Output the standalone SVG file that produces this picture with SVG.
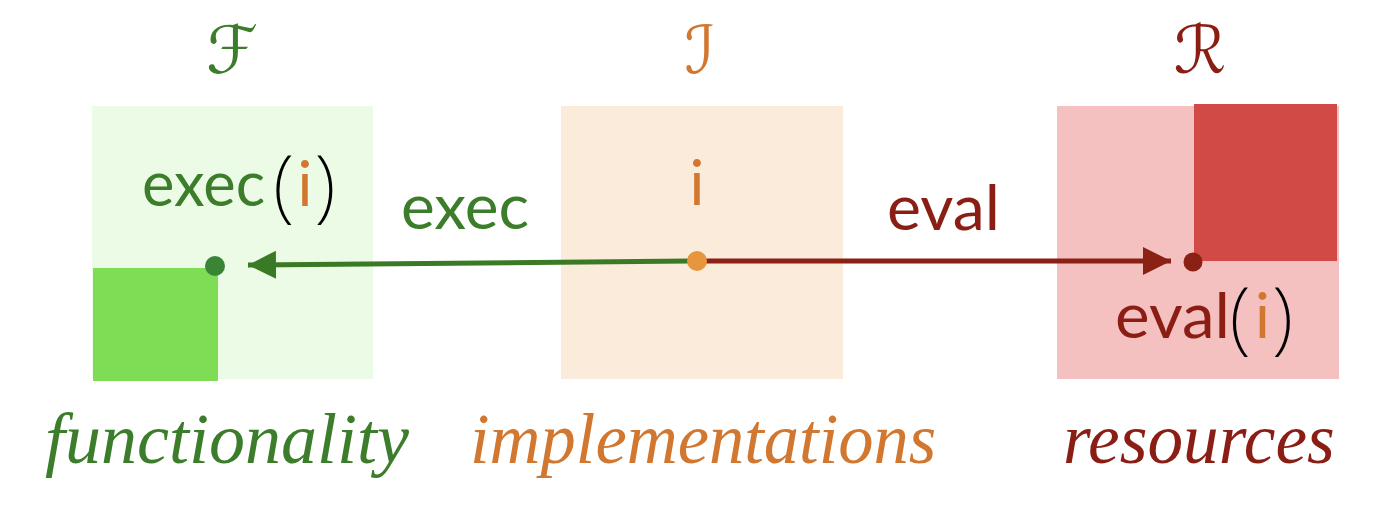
<svg xmlns="http://www.w3.org/2000/svg" width="1400" height="518" viewBox="0 0 1400 518">
<style>
.sans{font-family:Lato,"Open Sans","DejaVu Sans",sans-serif;font-size:62px}
.paren{font-family:"Noto Sans","DejaVu Sans",sans-serif;font-size:80px;font-weight:200;fill:#000;text-anchor:middle}
.title{font-family:"DejaVu Serif","DejaVu Sans",serif;font-size:66px;text-anchor:middle}
.cap{font-family:"Liberation Serif",serif;font-style:italic;font-size:72px}
.g{fill:#3b7d2a}.o{fill:#d2772f}.r{fill:#8b1e14}
.mid{text-anchor:middle}
</style>
<defs>
<marker id="ahG" markerWidth="28" markerHeight="28" refX="28" refY="14" orient="auto" markerUnits="userSpaceOnUse"><path d="M0,0 L28,14 L0,28 z" fill="#3b7a24"/></marker>
<marker id="ahR" markerWidth="28" markerHeight="28" refX="28" refY="14" orient="auto" markerUnits="userSpaceOnUse"><path d="M0,0 L28,14 L0,28 z" fill="#8b2015"/></marker>
</defs>
<g id="functionality">
<text class="title g" x="232" y="73">ℱ</text>
<rect x="92" y="106" width="281" height="273" fill="#ebfbe6"/>
<rect x="93" y="268" width="125" height="113" fill="#7fdc55"/>
<text class="sans g" x="142" y="206" textLength="123" lengthAdjust="spacingAndGlyphs">exec</text>
<text class="paren" x="283.5" y="212">(</text>
<text class="sans o mid" x="305" y="206">i</text>
<text class="paren" x="325" y="212">)</text>
<circle cx="215" cy="266" r="10" fill="#3a8535"/>
<text class="cap g" transform="translate(45,463)">functionality</text>
</g>
<g id="implementations">
<text class="title o" x="700" y="73">ℐ</text>
<rect x="561" y="106" width="282" height="273" fill="#fbebdb"/>
<text class="sans o mid" x="697" y="205">i</text>
<text class="cap o" transform="translate(470,463) scale(0.98,1)">implementations</text>
</g>
<g id="resources">
<text class="title r" x="1200" y="73">ℛ</text>
<rect x="1057" y="106" width="282" height="273" fill="#f5c0c0"/>
<rect x="1194" y="104" width="143" height="157" fill="#d24a45"/>
<text class="sans r" x="1115" y="338" textLength="115" lengthAdjust="spacingAndGlyphs">eval</text>
<text class="paren" x="1240" y="344">(</text>
<text class="sans o mid" x="1262.5" y="338">i</text>
<text class="paren" x="1282.5" y="344">)</text>
<circle cx="1193" cy="262" r="9.5" fill="#8b2015"/>
<text class="cap r" transform="translate(1063,463) scale(0.99,1)">resources</text>
</g>
<g id="connectors">
<line x1="690" y1="261" x2="248" y2="265" stroke="#3b7a24" stroke-width="5" marker-end="url(#ahG)"/>
<line x1="697" y1="261" x2="1171" y2="261" stroke="#8b2015" stroke-width="5" marker-end="url(#ahR)"/>
<text class="sans g" x="401" y="229" textLength="128" lengthAdjust="spacingAndGlyphs">exec</text>
<text class="sans r" x="887" y="230" textLength="113" lengthAdjust="spacingAndGlyphs">eval</text>
</g>
<circle cx="697" cy="261" r="10" fill="#e8963e"/>
</svg>
